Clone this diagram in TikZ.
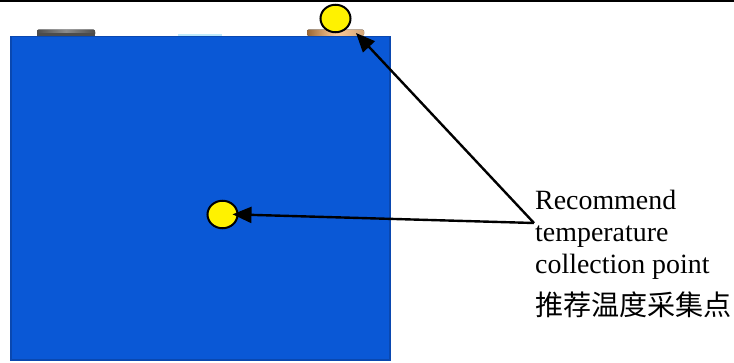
\documentclass[tikz,border=0pt]{standalone}
\usepackage{fontspec}
\setmainfont{Liberation Serif}
\newfontfamily\cjk{Noto Sans CJK SC}
\usetikzlibrary{arrows.meta,shapes.geometric}
\definecolor{cellblue}{HTML}{0A58D6}
\definecolor{celledge}{HTML}{0A48B0}
\tikzset{
  x=1pt,y=-1pt,
  probe/.style={ellipse,draw=black,line width=2pt,fill=yellow,inner sep=0pt,minimum width=30pt,minimum height=27.5pt},
  pointer/.style={draw=black,line width=2.4pt,-{Triangle[length=19pt,width=16pt]}},
  caption/.style={anchor=base west,inner sep=0pt,font=\fontsize{27.9}{30}\selectfont}
}
\begin{document}
\begin{tikzpicture}
\useasboundingbox (0,0) rectangle (734,362);
\fill[black] (0,0) rectangle (734,2);
% terminals
\fill[rounded corners=2pt,left color=black!70,right color=black!70,middle color=black!45] (37,36) rectangle (95,29.5);
\fill[black!70!white] (37,36) rectangle (95,33);
\fill[cyan!25!white] (178,36) rectangle (222,33.5);
\fill[rounded corners=2pt,left color=brown!80!black,right color=brown!70,middle color=orange!40!white] (307,36) rectangle (364,29.5);
% cell body
\fill[celledge] (10,35.5) rectangle (391,361);
\fill[cellblue] (12,36.5) rectangle (389,358.5);
% probes
\node[probe] (top) at (335.5,18.5) {};
\node[probe] (mid) at (222.5,214.5) {};
% captions
\node[caption] (l1) at (535,209) {Recommend};
\node[caption] (l2) at (535,241) {temperature};
\node[caption] (l3) at (535,273) {collection point};
\node[caption,font=\fontsize{28.1}{30}\selectfont\cjk] (l4) at (535,315) {推荐温度采集点};
% connectors
\coordinate (hub) at (534,223);
\coordinate (terminal) at (356,33);
\draw[pointer] (hub) -- (terminal);
\draw[pointer,shorten >=-6pt] (hub) -- (mid.east);
\end{tikzpicture}
\end{document}
